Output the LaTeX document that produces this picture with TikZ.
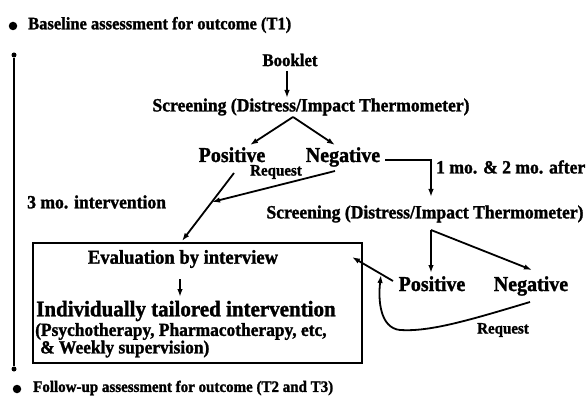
\documentclass[tikz,border=0pt]{standalone}
\usepackage{fontspec}
\usepackage{graphicx}
\setmainfont{Liberation Serif}[BoldFeatures={FakeBold=1.5}]
\usetikzlibrary{arrows.meta}
\newcommand{\fsz}[1]{\fontsize{#1pt}{#1pt}\selectfont\bfseries}
\newcommand{\vs}[1]{\scalebox{1}[1.06]{#1}}
\begin{document}
\begin{tikzpicture}[x=1pt,y=-1pt,
  txt/.style={inner sep=0pt, font=\fsz{17.6}},
  ln/.style={line width=1.8pt},
  arr/.style={line width=1.8pt, -{Latex[length=8pt,width=5.5pt]}},
  dot/.style={circle, fill, inner sep=0pt, minimum size=8.5pt},
  sdot/.style={circle, fill, inner sep=0pt, minimum size=5pt}]
\useasboundingbox (0,0) rectangle (587,401);
\fill[white] (0,0) rectangle (587,401);

% header and footer
\node[dot] (b1) at (13,26) {};
\node[txt, anchor=west, font=\fsz{16.5}] (t1) at (28,25) {\vs{Baseline assessment for outcome (T1)}};
\node[dot] (b2) at (17,389) {};
\node[txt, anchor=west, font=\fsz{15}] (t2) at (33,388) {\vs{Follow-up assessment for outcome (T2 and T3)}};

% timeline
\node[sdot] (tl1) at (14,55) {};
\node[sdot] (tl2) at (14,369) {};
\draw[line width=2.4pt] (tl1) -- (tl2);
\node[txt, anchor=west] (mo3) at (27,202) {\vs{3 mo. intervention}};

% first screening
\node[txt, font=\fsz{16.8}] (booklet) at (290,60) {\vs{Booklet}};
\node[txt] (scr1) at (311,107) {\vs{Screening (Distress/Impact Thermometer)}};
\coordinate (a1) at (287,71);
\coordinate (a2) at (287,98);
\draw[arr] (a1) -- (a2);
\coordinate (apex1) at (293,117);
\coordinate (p1tip) at (250,145);
\coordinate (n1tip) at (335,145);
\draw[arr] (apex1) -- (p1tip);
\draw[arr] (apex1) -- (n1tip);
\node[txt, font=\fsz{20}, anchor=base] (pos1) at (232,162) {\vs{Positive}};
\node[txt, font=\fsz{20}, anchor=base] (neg1) at (343,162) {\vs{Negative}};
\node[txt, font=\fsz{15}] (req1) at (276,172) {\vs{Request}};

% negative -> second screening
\coordinate (n1out) at (385,160);
\coordinate (s2tip) at (431,197);
\draw[arr] (n1out) -| (s2tip);
\node[txt, anchor=west] (after) at (436,167) {\vs{1 mo. \& 2 mo. after}};
\node[txt] (scr2) at (425,214) {\vs{Screening (Distress/Impact Thermometer)}};

% box
\node[draw, line width=1.4pt, minimum width=329pt, minimum height=120pt, inner sep=0pt] (box) at (197.5,303) {};
\node[txt, font=\fsz{18.6}] (eval) at (183,259) {\vs{Evaluation by interview}};
\coordinate (e1) at (180,279);
\coordinate (e2) at (180,297);
\draw[arr] (e1) -- (e2);
\node[txt, font=\fsz{21}] (indiv) at (186,311) {\vs{Individually tailored intervention}};
\node[txt, anchor=west, font=\fsz{17.4}] (psy) at (35,331.5) {\vs{(Psychotherapy, Pharmacotherapy, etc,}};
\node[txt, anchor=west, font=\fsz{17.4}] (weekly) at (40,349) {\vs{\& Weekly supervision)}};

% first positive/negative to box
\coordinate (p1out) at (234,173);
\coordinate (boxin) at (182,241);
\draw[arr] (p1out) -- (boxin);
\coordinate (n1req) at (335,171);
\coordinate (meet) at (212,202);
\draw[arr] (n1req) -- (meet);

% second screening split
\coordinate (c2) at (431,230);
\coordinate (p2tip) at (431,273);
\coordinate (n2tip) at (532,270);
\draw[arr] (c2) -- (p2tip);
\draw[arr] (c2) -- (n2tip);
\node[txt, font=\fsz{20}, anchor=base] (pos2) at (432,291) {\vs{Positive}};
\node[txt, font=\fsz{20}, anchor=base] (neg2) at (531,291) {\vs{Negative}};
\coordinate (p2out) at (393,281);
\coordinate (evin) at (352,257);
\draw[arr] (p2out) -- (evin);
\coordinate (n2out) at (530,302);
\coordinate (reqtip) at (381,275);
\draw[arr] (n2out) .. controls (470,320) and (430,332) .. (400,330) .. controls (380,328) and (378,300) .. (reqtip);
\node[txt, font=\fsz{15}] (req2) at (503,330) {\vs{Request}};
\end{tikzpicture}
\end{document}
